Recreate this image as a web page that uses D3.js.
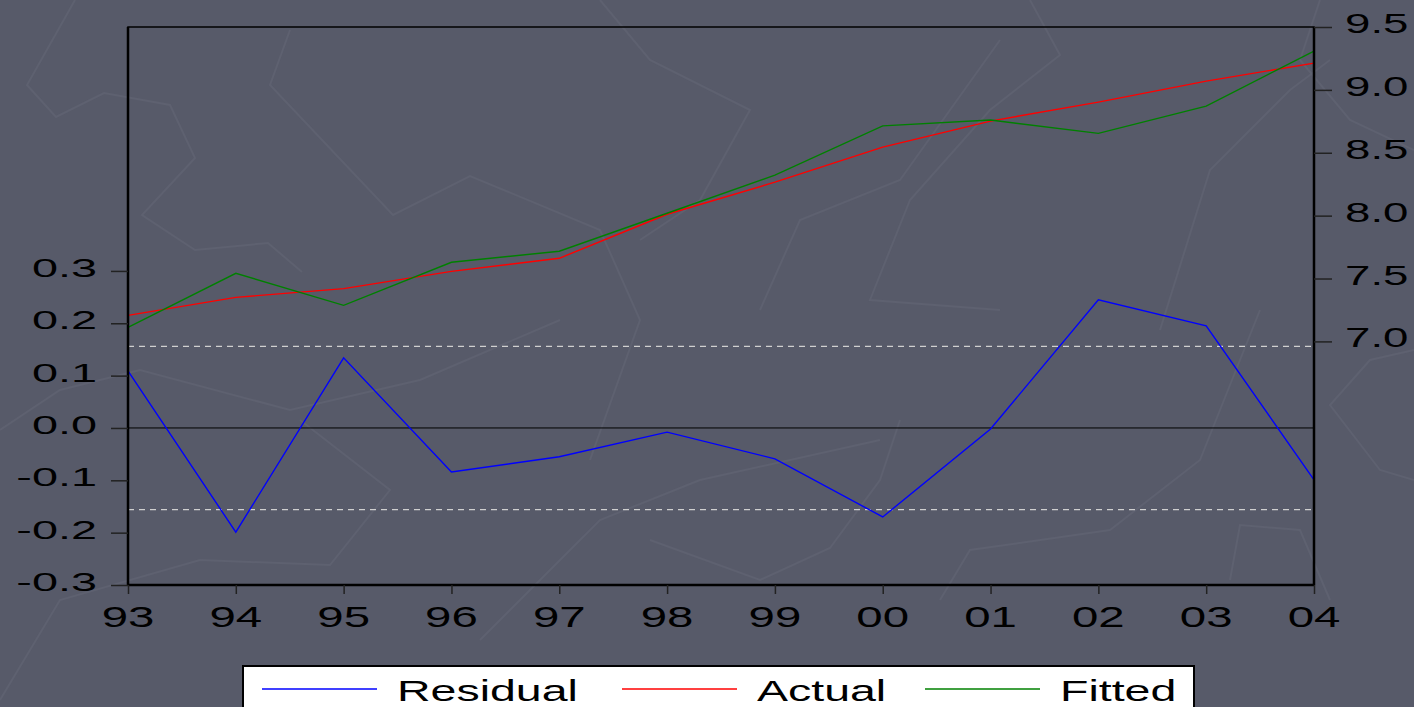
<!DOCTYPE html>
<html>
<head>
<meta charset="utf-8">
<script src="https://cdn.jsdelivr.net/npm/d3@7"></script>
<style>
  html, body { margin: 0; padding: 0; background: #575a69; }
  svg { display: block; }
  text { font-family: "Liberation Sans", Arial, sans-serif; fill: #000; }
</style>
</head>
<body>
<svg id="chart" width="1414" height="707"></svg>
<script>
// ---- data ----
const years = ["93","94","95","96","97","98","99","00","01","02","03","04"];
const residual = [0.109, -0.199, 0.134, -0.084, -0.055, -0.008, -0.059, -0.170, -0.002, 0.245, 0.195, -0.099];
const actual   = [7.207, 7.350, 7.420, 7.557, 7.661, 8.011, 8.266, 8.545, 8.752, 8.903, 9.070, 9.213];
const fitted   = [7.111, 7.541, 7.287, 7.629, 7.717, 8.019, 8.322, 8.714, 8.760, 8.654, 8.871, 9.309];
const leftTicks  = [-0.3, -0.2, -0.1, 0.0, 0.1, 0.2, 0.3];
const leftTickLabels = ["-0.3", "-0.2", "-0.1", "0.0", "0.1", "0.2", "0.3"];
const rightTicks = [7.0, 7.5, 8.0, 8.5, 9.0, 9.5];
const rightTickLabels = ["7.0", "7.5", "8.0", "8.5", "9.0", "9.5"];
const residualBand = 0.156; // +/- 1 S.E. dashed lines
const seriesNames = ["Residual", "Actual", "Fitted"];
const seriesColors = ["#0000ff", "#ff0000", "#008000"];

// ---- layout ----
const svg = d3.select("#chart");
const L = 128, R = 1314, T = 27, B = 585;

const x = d3.scalePoint().domain(years).range([L, R]);
const yL = d3.scaleLinear().domain([-0.3, 0.766]).range([B, T]);
const yR = d3.scaleLinear().domain([5.063, 9.5]).range([B, T]);

// background decoration (faint texture lines)
const deco = [
  [[75,0],[27,85],[56,117],[104,93],[170,105],[195,158],[142,215],[195,250],[268,243],[302,272]],
  [[290,30],[270,85],[393,215],[470,176],[600,230],[640,320],[590,460]],
  [[600,0],[650,60],[750,110],[700,200],[640,240]],
  [[1030,0],[1060,55],[990,110],[910,200],[870,300],[1000,310]],
  [[1320,0],[1300,60],[1350,120],[1414,150]],
  [[760,310],[800,220],[900,180],[1000,40]],
  [[0,700],[60,600],[200,560],[330,565],[390,490],[300,420]],
  [[650,540],[760,580],[830,548],[880,480],[900,420]],
  [[1414,350],[1370,360],[1330,405],[1380,470],[1414,480]],
  [[1160,330],[1210,170],[1290,90],[1330,60]],
  [[940,600],[970,550],[1110,530],[1200,460],[1260,310]],
  [[1230,580],[1240,525],[1300,530],[1330,600]],
  [[0,430],[60,390],[140,370],[290,410],[420,380],[560,320]],
  [[480,640],[520,600],[600,520],[700,480],[880,440]]
];
svg.append("g").selectAll("path").data(deco).join("path")
  .attr("d", d => d3.line()(d))
  .attr("fill", "none").attr("stroke", "#5e6170").attr("stroke-width", 2);

// helper for horizontally stretched text
function stretchedText(parent, tx, ty, str, size, sx, anchor) {
  const g = parent.append("g").attr("transform", `translate(${tx},${ty}) scale(${sx},1)`);
  g.append("text").attr("x", 0).attr("y", 0)
    .attr("font-size", size).attr("text-anchor", anchor).text(str);
  return g;
}

// zero line & residual band
svg.append("line").attr("x1", L).attr("x2", R)
  .attr("y1", yL(0)).attr("y2", yL(0)).attr("stroke", "#000").attr("stroke-width", 1);
[residualBand, -residualBand].forEach(v => {
  svg.append("line").attr("x1", L).attr("x2", R)
    .attr("y1", yL(v)).attr("y2", yL(v))
    .attr("stroke", "#d0d0d0").attr("stroke-width", 1.2).attr("stroke-dasharray", "6,5");
});

// series lines
const lineL = d3.line().x((d, i) => x(years[i])).y(d => yL(d));
const lineR = d3.line().x((d, i) => x(years[i])).y(d => yR(d));
svg.append("path").attr("d", lineR(actual)).attr("fill", "none").attr("stroke", seriesColors[1]).attr("stroke-width", 1.4);
svg.append("path").attr("d", lineR(fitted)).attr("fill", "none").attr("stroke", seriesColors[2]).attr("stroke-width", 1.4);
svg.append("path").attr("d", lineL(residual)).attr("fill", "none").attr("stroke", seriesColors[0]).attr("stroke-width", 1.4);

// frame
svg.append("rect").attr("x", L).attr("y", T).attr("width", R - L).attr("height", B - T)
  .attr("fill", "none").attr("stroke", "#000").attr("stroke-width", 1.5);
svg.append("line").attr("x1", L).attr("x2", L).attr("y1", T).attr("y2", B).attr("stroke", "#000").attr("stroke-width", 2.5);
svg.append("line").attr("x1", R).attr("x2", R).attr("y1", T).attr("y2", B).attr("stroke", "#000").attr("stroke-width", 2.5);
svg.append("line").attr("x1", L).attr("x2", R).attr("y1", B).attr("y2", B).attr("stroke", "#000").attr("stroke-width", 2.5);

// axes (ticks from d3 axes, labels drawn stretched)
const axL = d3.axisLeft(yL).tickValues(leftTicks).tickSize(17).tickFormat("");
const gL = svg.append("g").attr("transform", `translate(${L},0)`).call(axL);
const axR = d3.axisRight(yR).tickValues(rightTicks).tickSize(18).tickFormat("");
const gR = svg.append("g").attr("transform", `translate(${R},0)`).call(axR);
const axB = d3.axisBottom(x).tickSize(9).tickFormat("");
const gB = svg.append("g").attr("transform", `translate(0,${B})`).call(axB);
[gL, gR, gB].forEach(g => {
  g.select(".domain").remove();
  g.selectAll(".tick line").attr("stroke", "#222").attr("stroke-width", 1.5);
});

leftTicks.forEach((v, i) => stretchedText(svg, 97, yL(v) + 6, leftTickLabels[i], 26, 1.8, "end"));
rightTicks.forEach((v, i) => stretchedText(svg, 1345, yR(v) + 6, rightTickLabels[i], 28, 1.63, "start"));
years.forEach(yv => stretchedText(svg, x(yv), 627, yv, 30, 1.58, "middle"));

// legend
svg.append("rect").attr("x", 243).attr("y", 666).attr("width", 951).attr("height", 60)
  .attr("fill", "#fff").attr("stroke", "#000").attr("stroke-width", 2);
const legendStart = 262, lineLen = 115, textGap = 20;
const itemStarts = [legendStart, legendStart + 360, legendStart + 663];
seriesNames.forEach((name, i) => {
  const sx = itemStarts[i];
  svg.append("line").attr("x1", sx).attr("x2", sx + lineLen).attr("y1", 689).attr("y2", 689)
    .attr("stroke", seriesColors[i]).attr("stroke-width", 1.4);
  stretchedText(svg, sx + lineLen + textGap, 701, name, 30, 1.55, "start");
});
</script>
</body>
</html>
